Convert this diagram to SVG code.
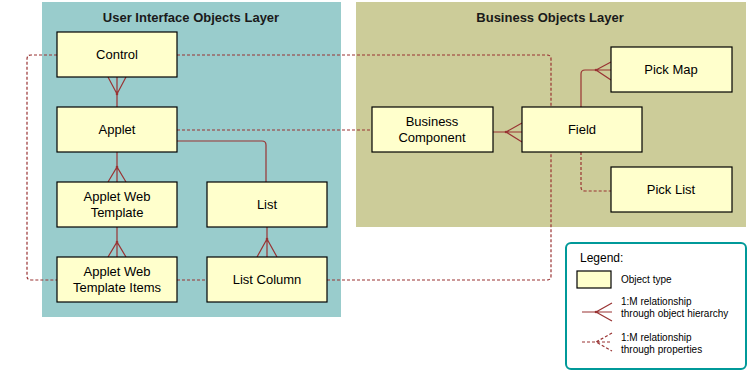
<svg xmlns="http://www.w3.org/2000/svg" width="750" height="374" viewBox="0 0 750 374">
<style>
.node{fill:#FFFFCC;stroke:#000;stroke-width:1.2}
.lbl{font-family:"Liberation Sans",Arial,sans-serif;font-size:13px;fill:#000;text-anchor:middle}
.ttl{font-family:"Liberation Sans",Arial,sans-serif;font-size:13px;font-weight:bold;fill:#1a1a1a;text-anchor:middle}
.sol{fill:none;stroke:#993333;stroke-width:1.2}
.dsh{fill:none;stroke:#993333;stroke-width:1.2;stroke-dasharray:3 2}
.dot{fill:#993333}
.leg{font-family:"Liberation Sans",Arial,sans-serif;font-size:10px;fill:#000}
</style>
<g id="panels">
<rect x="42" y="2" width="299" height="315" fill="#99CCCC"/>
<rect x="356" y="2" width="390" height="225" fill="#CCCC99"/>
<text class="ttl" x="191" y="22">User Interface Objects Layer</text>
<text class="ttl" x="550" y="22">Business Objects Layer</text>
</g>
<g id="connectors">
<!-- dashed property relationships -->
<path class="dsh" d="M177,55 H547 Q551,55 551,59 V107"/>
<path class="dsh" d="M57,55 H31 Q27,55 27,59 V276 Q27,280 31,280 H57"/>
<path class="dsh" d="M177,280 H207"/>
<path class="dsh" d="M327,280 H547 Q551,280 551,276 V152"/>
<path class="dsh" d="M177,130 H372"/>
<path class="dsh" d="M581,152 V187 Q581,191 585,191 H611"/>
<!-- solid hierarchy -->
<path class="sol" d="M117,77 V107 M108,77 L117,94 L126,77"/>
<circle class="dot" cx="117" cy="94" r="1.3"/>
<path class="sol" d="M117,152 V182 M108,182 L117,167 L126,182"/>
<circle class="dot" cx="117" cy="167" r="1.3"/>
<path class="sol" d="M117,227 V257 M108,257 L117,242 L126,257"/>
<circle class="dot" cx="117" cy="242" r="1.3"/>
<path class="sol" d="M177,141 H262 Q266,141 266,145 V182"/>
<path class="sol" d="M267,227 V257 M257,257 L267,239 L277,257"/>
<circle class="dot" cx="267" cy="239" r="1.3"/>
<path class="sol" d="M493,132 H522 M522,123 L506,132 L522,142"/>
<circle class="dot" cx="506" cy="132" r="1.3"/>
<path class="sol" d="M581,107 V74 Q581,70 585,70 H611 M611,62 L596,70 L611,80"/>
<circle class="dot" cx="596" cy="70" r="1.3"/>
</g>
<g id="control"><rect class="node" x="57" y="32" width="120" height="45"/><text class="lbl" x="117" y="59">Control</text></g>
<g id="applet"><rect class="node" x="57" y="107" width="120" height="45"/><text class="lbl" x="117" y="134">Applet</text></g>
<g id="applet-web-template"><rect class="node" x="57" y="182" width="120" height="45"/><text class="lbl" x="117" y="201">Applet Web</text><text class="lbl" x="117" y="217">Template</text></g>
<g id="applet-web-template-items"><rect class="node" x="57" y="257" width="120" height="45"/><text class="lbl" x="117" y="276">Applet Web</text><text class="lbl" x="117" y="292">Template Items</text></g>
<g id="list"><rect class="node" x="207" y="182" width="120" height="45"/><text class="lbl" x="267" y="209">List</text></g>
<g id="list-column"><rect class="node" x="207" y="257" width="120" height="45"/><text class="lbl" x="267" y="284">List Column</text></g>
<g id="business-component"><rect class="node" x="372" y="107" width="121" height="45"/><text class="lbl" x="432" y="126">Business</text><text class="lbl" x="432" y="142">Component</text></g>
<g id="field"><rect class="node" x="522" y="107" width="120" height="45"/><text class="lbl" x="582" y="134">Field</text></g>
<g id="pick-map"><rect class="node" x="611" y="47" width="121" height="45"/><text class="lbl" x="671" y="74">Pick Map</text></g>
<g id="pick-list"><rect class="node" x="611" y="167" width="121" height="45"/><text class="lbl" x="671" y="194">Pick List</text></g>
<g id="legend">
<rect x="566" y="243" width="180" height="126" rx="5" fill="#fff" stroke="#009999" stroke-width="2"/>
<text x="580" y="262" font-family="Liberation Sans,Arial,sans-serif" font-size="12" fill="#000">Legend:</text>
<rect class="node" x="577" y="271" width="34" height="17" stroke-width="1"/>
<text class="leg" x="621" y="283">Object type</text>
<path class="sol" d="M582,312 H612 M612,303 L596,312 L612,321"/>
<circle class="dot" cx="596" cy="312" r="1.3"/>
<text class="leg" x="621" y="305">1:M relationship</text>
<text class="leg" x="621" y="317">through object hierarchy</text>
<path class="dsh" d="M582,342 H612 M612,333 L596,342 L612,351" stroke-dasharray="2 2"/>
<text class="leg" x="621" y="341">1:M relationship</text>
<text class="leg" x="621" y="353">through properties</text>
</g>
</svg>
